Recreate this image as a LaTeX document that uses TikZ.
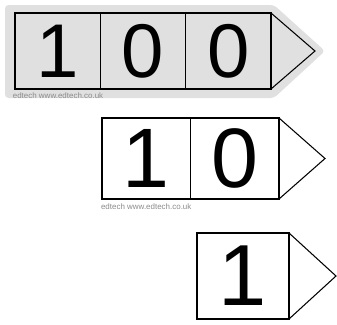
\documentclass[tikz,border=0pt]{standalone}
\usepackage{fontspec}
\setsansfont{Liberation Sans}
\usepackage{tikz}
\usetikzlibrary{positioning}
\definecolor{stickergray}{HTML}{E0E0E0}
\tikzstyle{cell} = [rectangle, draw=black, line width=0.9pt, inner sep=0pt, outer sep=0pt, text centered]
\tikzstyle{point} = [draw=black, line width=0.9pt, line join=miter]
\tikzstyle{credit} = [font=\sffamily\fontsize{6.8}{6.8}\selectfont, text=black!45, inner sep=0pt, anchor=north west]

\begin{document}
\begin{tikzpicture}[x=0.03cm, y=-0.03cm]
        \useasboundingbox (0,0) rectangle (337,324);

        % grauer Aufkleber hinter der Hunderter-Karte
        \fill [stickergray, rounded corners=3pt] (5,5) -- (274,5) -- (325,51) -- (274,98) -- (5,98) -- cycle;

        % Hunderter
        \node (h1) [cell, minimum width=2.56cm, minimum height=2.28cm, font=\sffamily\fontsize{65}{65}\selectfont] at (57.65,51) {1};
        \node (h2) [cell, minimum width=2.56cm, minimum height=2.28cm, font=\sffamily\fontsize{65}{65}\selectfont, right=0pt of h1] {0};
        \node (h3) [cell, minimum width=2.56cm, minimum height=2.28cm, font=\sffamily\fontsize{65}{65}\selectfont, right=0pt of h2] {0};
        \coordinate [right=1.32cm of h3.east] (htip);
        \draw [point] (h3.north east) -- (htip) -- (h3.south east);
        \node (hcredit) [credit, below right=3pt and -2pt of h1.south west] {edtech www.edtech.co.uk};

        % Zehner
        \node (t1) [cell, minimum width=2.655cm, minimum height=2.43cm, font=\sffamily\fontsize{72}{72}\selectfont] at (146.25,158.5) {1};
        \node (t2) [cell, minimum width=2.655cm, minimum height=2.43cm, font=\sffamily\fontsize{72}{72}\selectfont, right=0pt of t1] {0};
        \coordinate [right=1.38cm of t2.east] (ttip);
        \draw [point] (t2.north east) -- (ttip) -- (t2.south east);
        \node (tcredit) [credit, below right=4pt and -1pt of t1.south west] {edtech www.edtech.co.uk};

        % Einer
        \node (o1) [cell, minimum width=2.76cm, minimum height=2.58cm, font=\sffamily\fontsize{74}{74}\selectfont] at (243,276) {1};
        \coordinate [right=1.41cm of o1.east] (otip);
        \draw [point] (o1.north east) -- (otip) -- (o1.south east);
    \end{tikzpicture}
\end{document}
